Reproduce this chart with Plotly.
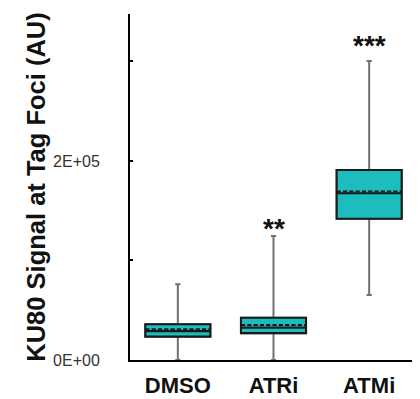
import plotly.graph_objects as go

categories = ["DMSO", "ATRi", "ATMi"]
lower_fence = [0, 0, 65300]
q1 = [23500, 27000, 142000]
median = [29000, 32500, 167500]
mean = [30800, 35200, 169300]
q3 = [36000, 42500, 191000]
upper_fence = [76000, 124500, 300500]
stars = ["", "**", "***"]
star_shift = [0, -10, -2]

y_tickvals = [0, 100000, 200000, 300000]
y_ticktext = ["0E+00", "", "2E+05", ""]

teal = "#1DBDBD"

fig = go.Figure()
# whiskers (gray)
fig.add_trace(go.Box(
    x=categories, q1=q1, median=median, q3=q3,
    lowerfence=lower_fence, upperfence=upper_fence,
    fillcolor=teal, line=dict(color="#707070", width=2),
    whiskerwidth=0.08, width=0.68, boxpoints=False, hoverinfo="skip",
    showlegend=False,
))
# box body (dark outline, mean dashed)
fig.add_trace(go.Box(
    x=categories, q1=q1, median=median, q3=q3, mean=mean,
    lowerfence=q1, upperfence=q3,
    fillcolor=teal, line=dict(color="#1a1a1a", width=2.1),
    whiskerwidth=0, width=0.68, boxmean=True, boxpoints=False,
    showlegend=False,
))

for c, s, uf, sh in zip(categories, stars, upper_fence, star_shift):
    if s:
        fig.add_annotation(x=c, y=uf, text=s, showarrow=False,
                           yanchor="bottom", yshift=sh,
                           font=dict(family="Liberation Sans, Arial", size=28,
                                     color="#111", weight="bold"))

# page body has an 8px margin, so the figure is 8px smaller than the window
fig.update_layout(
    width=412, height=391,
    margin=dict(l=122, r=3, t=6, b=39),
    paper_bgcolor="white", plot_bgcolor="white",
    boxmode="overlay",
    font=dict(family="Liberation Sans, Arial, sans-serif"),
    xaxis=dict(
        type="category", range=[-0.5, 2.5], automargin=False,
        showline=True, linecolor="black", linewidth=2,
        showgrid=False, zeroline=False, ticks="",
        tickfont=dict(size=22, color="#111", weight="bold"),
        ticklabelstandoff=5,
    ),
    yaxis=dict(
        range=[0, 347700], automargin=False,
        showline=True, linecolor="black", linewidth=2,
        showgrid=False, zeroline=False,
        ticks="inside", ticklen=3, tickwidth=1.5, tickcolor="black",
        tickvals=y_tickvals, ticktext=y_ticktext,
        tickfont=dict(size=16, color="#333"),
        ticklabelstandoff=25,
        title=dict(text="KU80 Signal at Tag Foci (AU)",
                   font=dict(size=25.5, color="#111", weight="bold"), standoff=0),
    ),
)

fig.write_html("out.html")
